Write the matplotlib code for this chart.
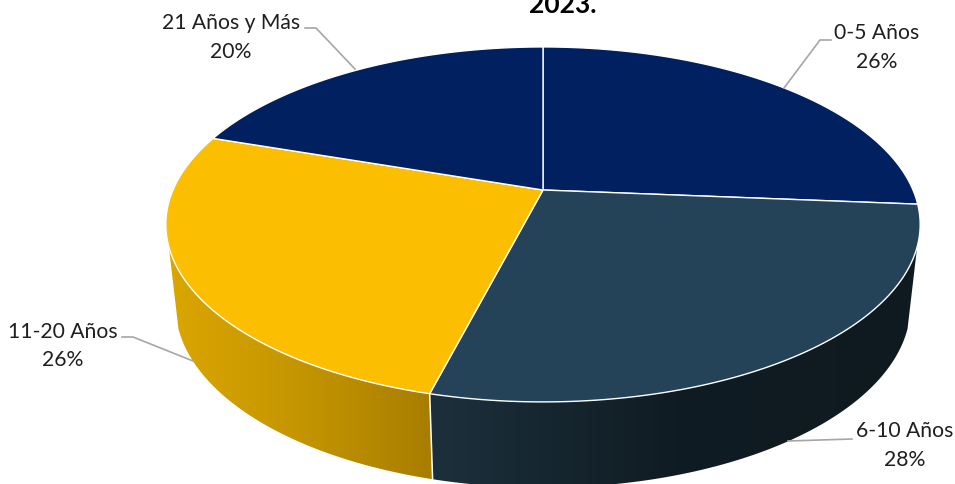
import numpy as np
import matplotlib
matplotlib.use("Agg")
import matplotlib.pyplot as plt
from matplotlib.patches import Polygon
from matplotlib.colors import LinearSegmentedColormap

categories = ["0-5 Años", "6-10 Años", "11-20 Años", "21 Años y Más"]
values = [26.3, 27.7, 26.2, 19.8]
top_colors = ["#002060", "#244358", "#FBBE00", "#002060"]
title_text = "2023."

W, H = 955, 484
plt.rcParams['font.family'] = ['Lato', 'DejaVu Sans']
fig = plt.figure(figsize=(W / 100, H / 100), dpi=100)
ax = fig.add_axes([0, 0, 1, 1])
ax.set_xlim(0, W)
ax.set_ylim(H, 0)
ax.axis("off")

K = 0.194
def rim(theta, cx, cy, A, B):
    u, v = np.sin(theta), np.cos(theta)
    w = 1 + K * v
    return np.column_stack([cx + A * u / w, cy - B * v / w])
def top_rim(t):
    return rim(t, 543, 190, 370, 170.8)
def bottom_rim(t):
    return rim(t, 543, 270.5, 360.5, 175)

fracs = np.array(values, float) / sum(values)
edges = np.concatenate([[0], np.cumsum(fracs)]) * 2 * np.pi
SIDE_A, SIDE_B = np.deg2rad(108.2), np.deg2rad(251.8)

# side walls with horizontal gradients
side_specs = [
    (edges[1], edges[2], ["#1C303C", "#101C23", "#0F1A20"], False),
    (edges[2], edges[3], ["#A87D00", "#C49500", "#DAA600"], True),
]
for a, b, cols, flip in side_specs:
    a2, b2 = max(a, SIDE_A), min(b, SIDE_B)
    t = np.linspace(a2, b2, 150)
    pts = np.vstack([top_rim(t), bottom_rim(t[::-1])])
    poly = Polygon(pts, closed=True, fc="none", ec="none", transform=ax.transData)
    ax.add_patch(poly)
    cmap = LinearSegmentedColormap.from_list("g", cols)
    x0, x1 = pts[:, 0].min(), pts[:, 0].max()
    y0, y1 = pts[:, 1].min(), pts[:, 1].max()
    grad = np.linspace(0, 1, 256)[None, :]
    if flip:
        grad = grad[:, ::-1]
    im = ax.imshow(grad, extent=[x0, x1, y1, y0], cmap=cmap, aspect="auto",
                   zorder=2, interpolation="bilinear")
    im.set_clip_path(poly)

# white seam between walls
seam_t = edges[2]
p_top, p_bot = top_rim(np.array([seam_t]))[0], bottom_rim(np.array([seam_t]))[0]
ax.plot([p_top[0], p_bot[0]], [p_top[1], p_bot[1]], color="white", lw=1.1, zorder=3)

# top faces
centre = np.array([[543.0, 190.0]])
for i in range(len(values)):
    t = np.linspace(edges[i], edges[i + 1], 200)
    pts = np.vstack([centre, top_rim(t)])
    ax.add_patch(Polygon(pts, closed=True, fc=top_colors[i], ec="white", lw=1.0,
                         joinstyle="round", zorder=4))

ax.set_xlim(0, W)
ax.set_ylim(H, 0)

# leader lines
leaders = [
    ([831, 820, 784], [40, 40, 88]),
    ([852, 788], [439, 441]),
    ([122, 133, 193], [337, 337, 361]),
    ([305, 316, 355], [28, 28, 69]),
]
for xs, ys in leaders:
    ax.plot(xs, ys, color="#A6A6A6", lw=1.2, zorder=5, solid_joinstyle="miter")

# labels
label_pos = [(877, 33), (905, 431), (63, 332), (231, 23)]
for (x, y), c, v in zip(label_pos, categories, values):
    ax.text(x, y, c, ha="center", va="center", fontsize=15.2, color="#1F1F1F", zorder=6)
    ax.text(x, y + 28.5, f"{v:.0f}%", ha="center", va="center", fontsize=15.2, color="#1F1F1F", zorder=6)

ax.text(563, 13, title_text, ha="center", va="baseline", fontsize=19,
        fontweight="bold", color="black", zorder=6)

fig.savefig("out.png", dpi=100, facecolor="white")
